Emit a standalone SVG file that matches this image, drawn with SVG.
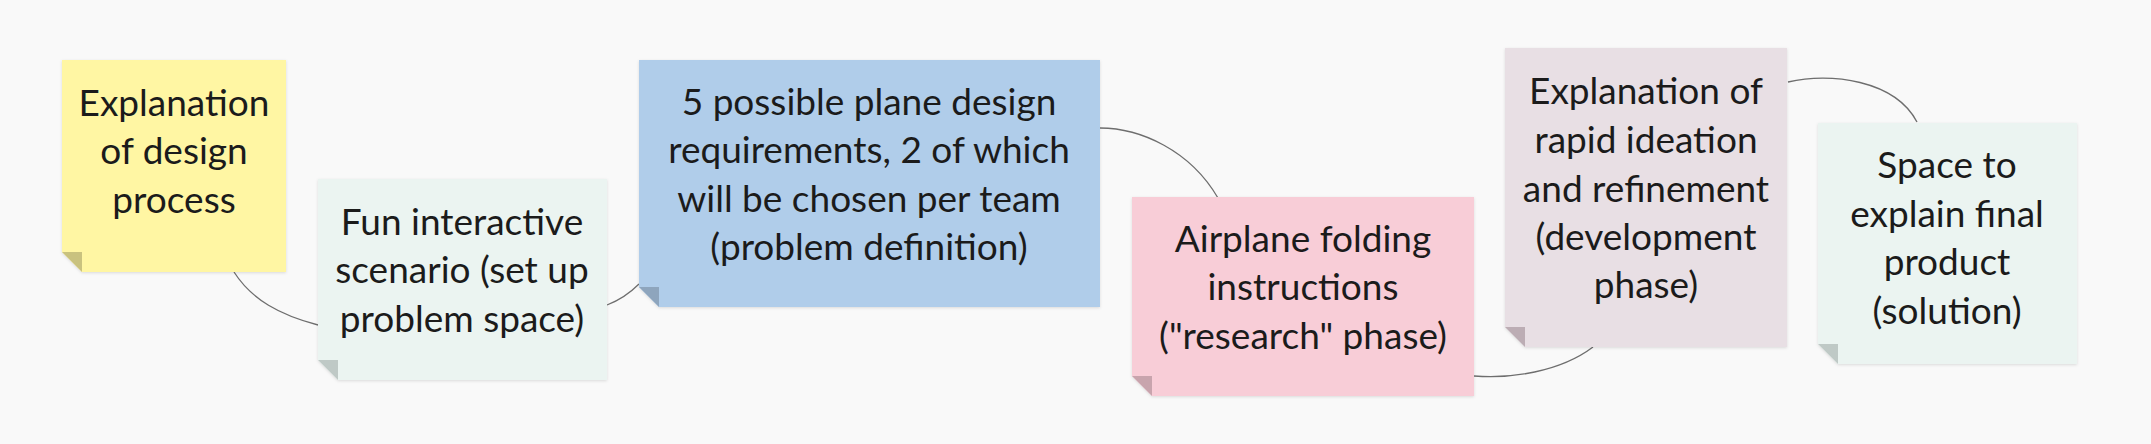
<svg xmlns="http://www.w3.org/2000/svg" width="2151" height="444" viewBox="0 0 2151 444">
<defs>
<filter id="sh" x="-5%" y="-5%" width="110%" height="110%">
<feDropShadow dx="0" dy="1" stdDeviation="1.5" flood-color="#000" flood-opacity="0.12"/>
</filter>
</defs>
<style>
text{font-family:Lato,"Open Sans","Liberation Sans",sans-serif;font-size:37px;fill:#1b1b1b;text-anchor:middle}
.c{fill:none;stroke:#6e6e6e;stroke-width:1.3}
</style>
<rect width="2151" height="444" fill="#f9f9f9"/>
<g id="connectors">
<path class="c" d="M234,272 C252,300 280,315 318,325"/>
<path class="c" d="M607,305 C620,300 630,293 639,284"/>
<path class="c" d="M1100,128 C1140,128 1190,150 1218,198"/>
<path class="c" d="M1474,376 C1510,379 1560,372 1593,347"/>
<path class="c" d="M1788,82 C1830,72 1895,80 1917,122"/>
</g>
<g id="n1">
<path d="M62,60 H286 V272 H82 L62,252 Z" fill="#fff6a3" filter="url(#sh)"/>
<path d="M62,252 H82 V272 Z" fill="#c9c27f"/>
<text x="174" y="116">Explanation</text>
<text x="174" y="164">of design</text>
<text x="174" y="213">process</text>
</g>
<g id="n2">
<path d="M318,179 H607 V380 H338 L318,360 Z" fill="#ebf4f1" filter="url(#sh)"/>
<path d="M318,360 H338 V380 Z" fill="#bfc9c6"/>
<text x="462" y="235">Fun interactive</text>
<text x="462" y="283">scenario (set up</text>
<text x="462" y="332">problem space)</text>
</g>
<g id="n3">
<path d="M639,60 H1100 V307 H659 L639,287 Z" fill="#b0cdea" filter="url(#sh)"/>
<path d="M639,287 H659 V307 Z" fill="#8ea5bd"/>
<text x="869" y="115">5 possible plane design</text>
<text x="869" y="163">requirements, 2 of which</text>
<text x="869" y="212">will be chosen per team</text>
<text x="869" y="260">(problem definition)</text>
</g>
<g id="n4">
<path d="M1132,197 H1474 V396 H1152 L1132,376 Z" fill="#f8cdd7" filter="url(#sh)"/>
<path d="M1132,376 H1152 V396 Z" fill="#c8a4ad"/>
<text x="1303" y="252">Airplane folding</text>
<text x="1303" y="300">instructions</text>
<text x="1303" y="349">("research" phase)</text>
</g>
<g id="n5">
<path d="M1505,48 H1787 V347 H1525 L1505,327 Z" fill="#e8dfe4" filter="url(#sh)"/>
<path d="M1505,327 H1525 V347 Z" fill="#bcadb4"/>
<text x="1646" y="104">Explanation of</text>
<text x="1646" y="153">rapid ideation</text>
<text x="1646" y="202">and refinement</text>
<text x="1646" y="250">(development</text>
<text x="1646" y="298">phase)</text>
</g>
<g id="n6">
<path d="M1818,123 H2077 V364 H1838 L1818,344 Z" fill="#ebf4f1" filter="url(#sh)"/>
<path d="M1818,344 H1838 V364 Z" fill="#bfc9c6"/>
<text x="1947" y="178">Space to</text>
<text x="1947" y="227">explain final</text>
<text x="1947" y="275">product</text>
<text x="1947" y="324">(solution)</text>
</g>
</svg>
